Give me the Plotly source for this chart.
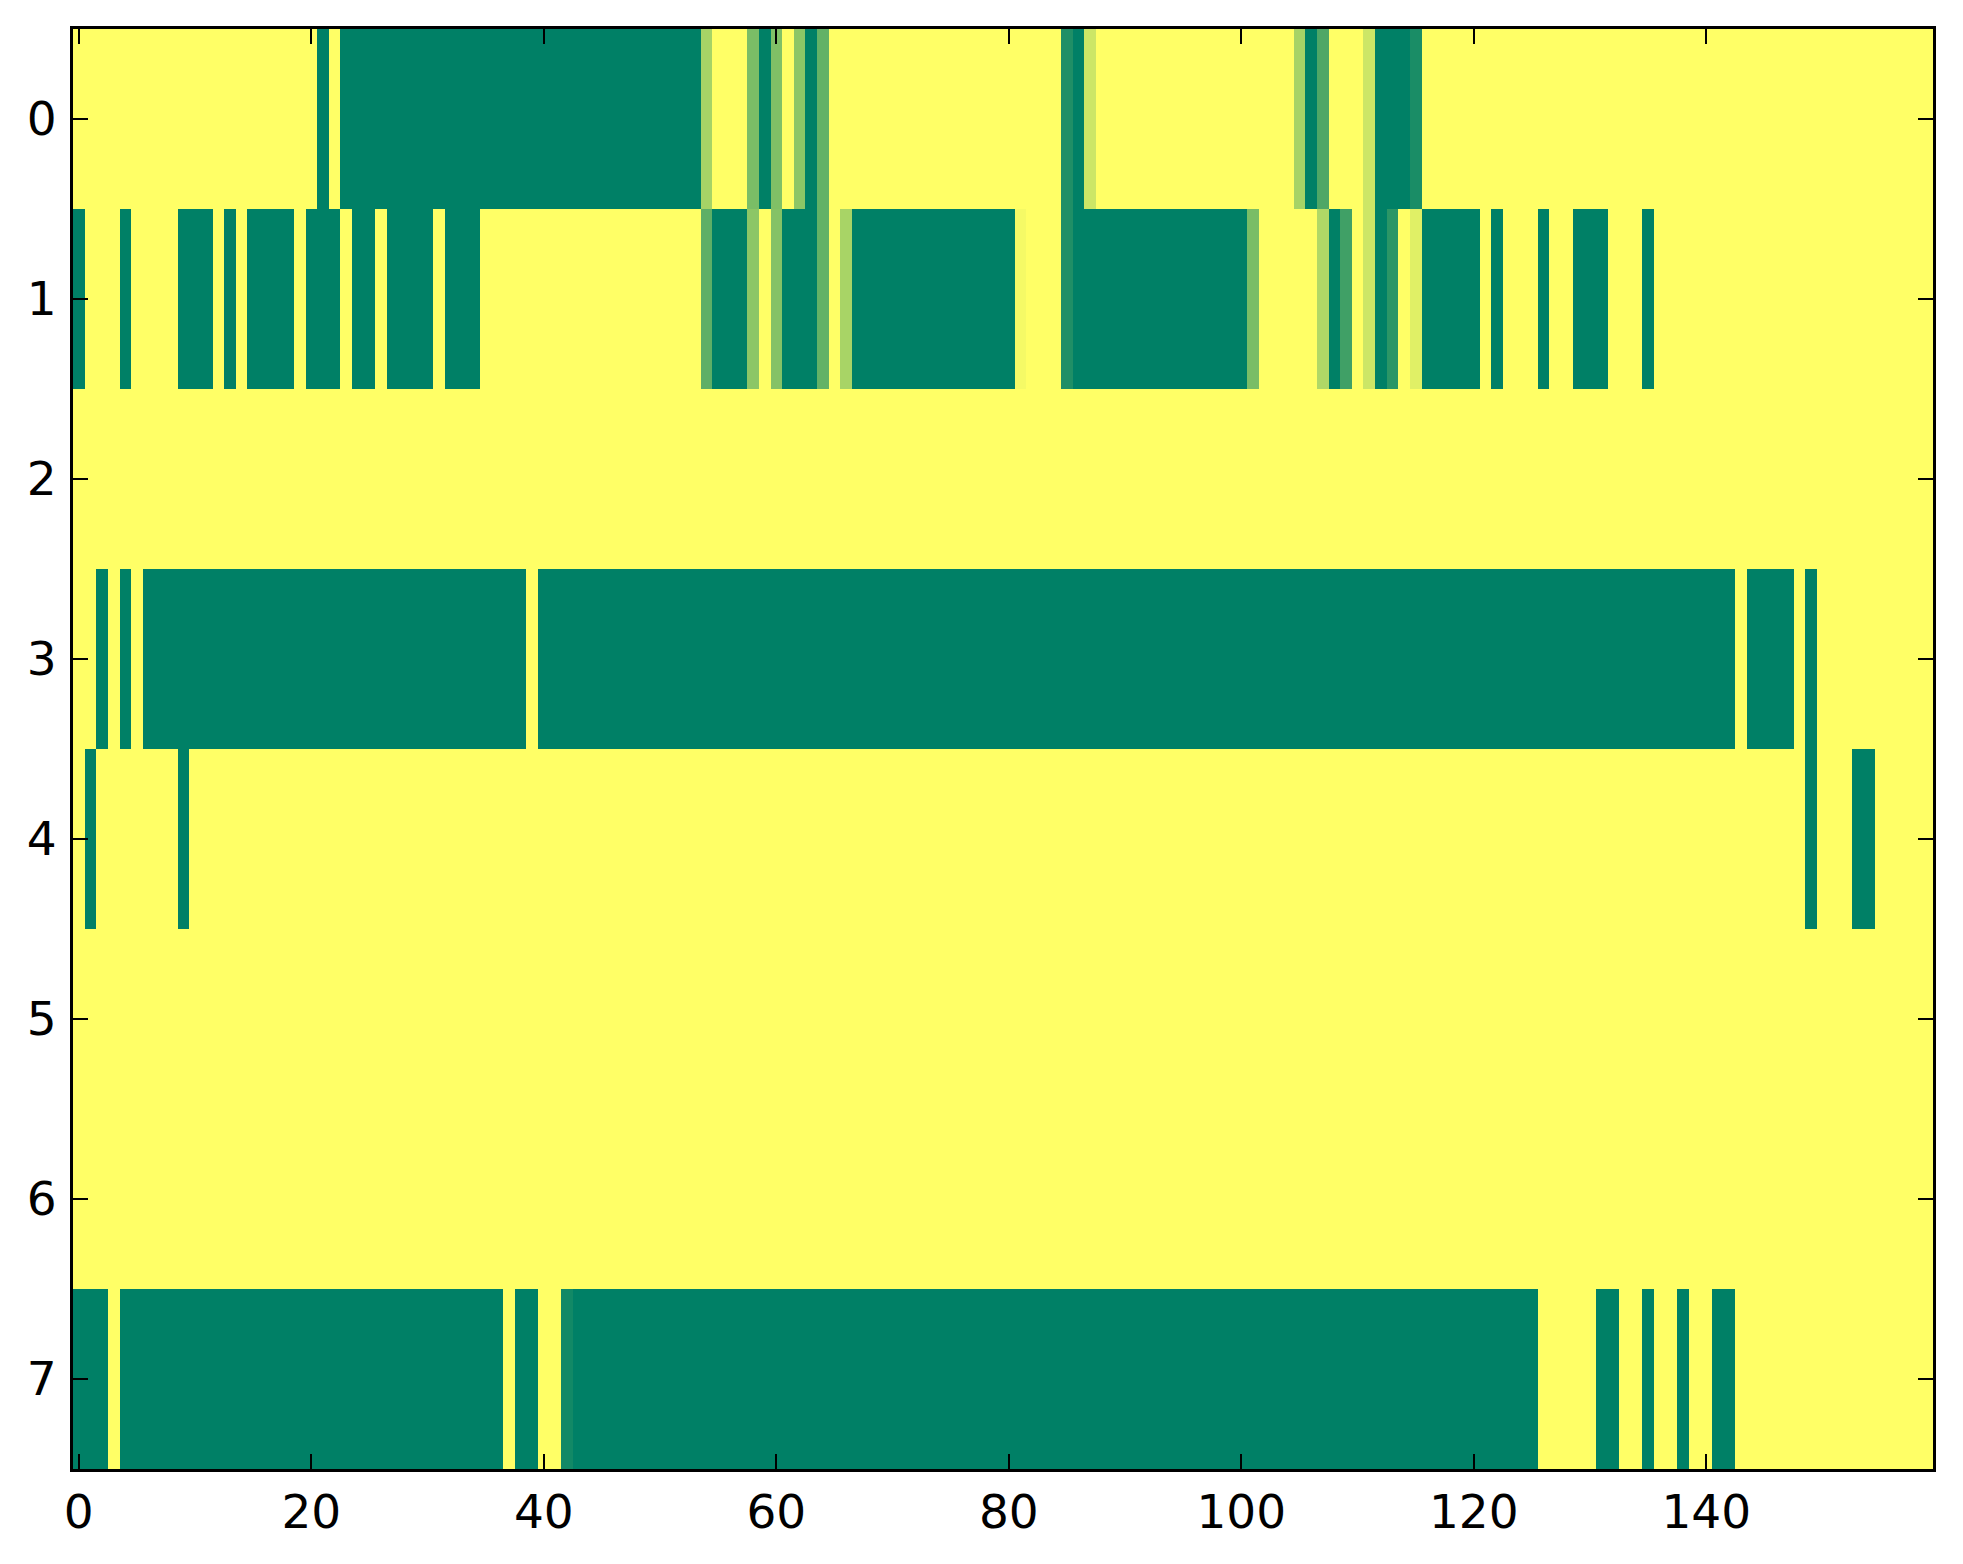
import numpy as np
import plotly.graph_objects as go

# each row as (value, run length) pairs left to right
row0 = [(1, 21), (0, 1), (1, 1), (0, 31), (0.65, 1), (1, 3), (0.48, 1), (0, 1),
        (0.5, 1), (1, 1), (0.55, 1), (0, 1), (0.39, 1), (1, 20), (0.12, 1), (0, 1),
        (0.8, 1), (1, 17), (0.65, 1), (0, 1), (0.31, 1), (1, 3), (0.8, 1), (0, 3),
        (0.1, 1), (1, 44)]
row1 = [(0, 1), (1, 3), (0, 1), (1, 4), (0, 3), (1, 1), (0, 1), (1, 1), (0, 4),
        (1, 1), (0, 3), (1, 1), (0, 2), (1, 1), (0, 4), (1, 1), (0, 3), (1, 19),
        (0.37, 1), (0, 3), (0.55, 1), (1, 1), (0.52, 1), (0, 3), (0.39, 1), (1, 1),
        (0.66, 1), (0, 14), (0.96, 1), (1, 3), (0.12, 1), (0, 15), (0.48, 1), (1, 5),
        (0.69, 1), (0, 1), (0.25, 1), (1, 1), (0.8, 1), (0, 1), (0.17, 1), (1, 1),
        (0.88, 1), (0, 5), (1, 1), (0, 1), (1, 3), (0, 1), (1, 2), (0, 3), (1, 3),
        (0, 1), (1, 24)]
row2 = [(1, 160)]
row3 = [(1, 2), (0, 1), (1, 1), (0, 1), (1, 1), (0, 33), (1, 1), (0, 103), (1, 1),
        (0, 4), (1, 1), (0, 1), (1, 10)]
row4 = [(1, 1), (0, 1), (1, 7), (0, 1), (1, 139), (0, 1), (1, 3), (0, 2), (1, 5)]
row5 = [(1, 160)]
row6 = [(1, 160)]
row7 = [(0, 3), (1, 1), (0, 33), (1, 1), (0, 2), (1, 2), (0.07, 1), (0, 83), (1, 5),
        (0, 2), (1, 2), (0, 1), (1, 2), (0, 1), (1, 2), (0, 2), (1, 17)]

rows = [row0, row1, row2, row3, row4, row5, row6, row7]


def expand(runs):
    out = []
    for v, n in runs:
        out += [v] * n
    return out


z = np.array([expand(r) for r in rows])
ncols = z.shape[1]

# matplotlib "summer"
summer = [[0, 'rgb(0,128,102)'], [1, 'rgb(255,255,102)']]

fig = go.Figure(go.Heatmap(z=z, x=np.arange(ncols), y=np.arange(len(rows)),
                           colorscale=summer, zmin=0, zmax=1, showscale=False))

axis_style = dict(showline=True, linecolor='black', linewidth=3, mirror='ticks',
                  ticks='inside', ticklen=15, tickwidth=2, tickcolor='black',
                  showgrid=False, zeroline=False,
                  tickfont=dict(family='DejaVu Sans', size=47, color='black'))

fig.update_xaxes(range=[-0.5, ncols - 0.5], tickvals=list(range(0, 160, 20)),
                 ticklabelstandoff=0, **axis_style)
fig.update_yaxes(range=[len(rows) - 0.5, -0.5], tickvals=list(range(8)),
                 ticklabelstandoff=4, **axis_style)

fig.update_layout(width=1963, height=1564, plot_bgcolor='white', paper_bgcolor='white',
                  margin=dict(l=65, r=38, t=21, b=103))

fig.write_html("out.html")
